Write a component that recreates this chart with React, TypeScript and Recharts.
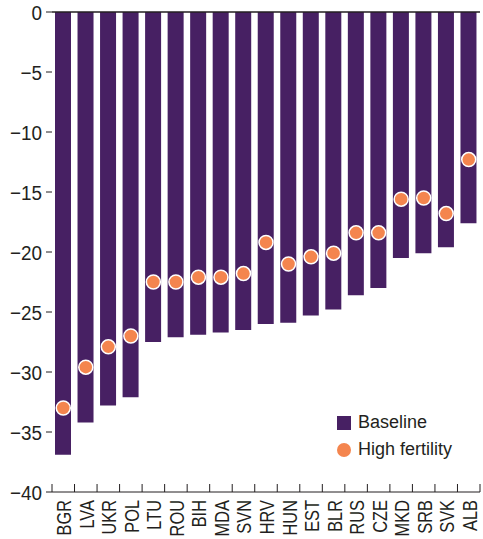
import React from 'react';
import {
  ComposedChart,
  Bar,
  Line,
  XAxis,
  YAxis,
  ReferenceLine,
} from 'recharts';

const countries = ['BGR', 'LVA', 'UKR', 'POL', 'LTU', 'ROU', 'BIH', 'MDA', 'SVN', 'HRV', 'HUN', 'EST', 'BLR', 'RUS', 'CZE', 'MKD', 'SRB', 'SVK', 'ALB'];
const baseline = [-36.9, -34.2, -32.8, -32.1, -27.5, -27.1, -26.9, -26.7, -26.5, -26.0, -25.9, -25.3, -24.8, -23.6, -23.0, -20.5, -20.1, -19.6, -17.6];
const highFertility = [-33.0, -29.6, -27.9, -27.0, -22.5, -22.5, -22.1, -22.1, -21.8, -19.2, -21.0, -20.4, -20.1, -18.4, -18.4, -15.6, -15.5, -16.8, -12.3];
const yTicks = [0, -5, -10, -15, -20, -25, -30, -35, -40];

const data = countries.map((name, i) => ({
  name,
  baseline: baseline[i],
  high: highFertility[i],
}));

const FONT = "'Liberation Sans', Arial, sans-serif";
const PURPLE = '#472063';
const ORANGE = '#F4854E';
const INK = '#231f20';

// category labels plus the boundary tick marks between categories
const CountryTick = (props: any) => {
  const { x, y, payload, index, visibleTicksCount } = props;
  const half = payload.offset || 0;
  const isLast = index === visibleTicksCount - 1;
  return (
    <g>
      <line x1={x - half} x2={x - half} y1={y} y2={y - 8} stroke={INK} />
      {isLast && <line x1={x + half} x2={x + half} y1={y} y2={y - 8} stroke={INK} />}
      <text
        transform={`translate(${x + 8},${y + 8}) rotate(-90) scale(0.78,1)`}
        textAnchor="end"
        fontFamily={FONT}
        fontSize={21}
        fill={INK}
      >
        {payload.value}
      </text>
    </g>
  );
};

const ValueTick = (props: any) => {
  const { x, y, payload } = props;
  return (
    <text
      transform={`translate(${x},${y}) scale(0.9,1)`}
      textAnchor="end"
      dy="0.36em"
      fontFamily={FONT}
      fontSize={21}
      fill={INK}
    >
      {String(payload.value).replace('-', '\u2212')}
    </text>
  );
};

const LegendBox = () => (
  <div
    style={{
      position: 'absolute',
      left: 337,
      top: 409,
      fontFamily: FONT,
      fontSize: 18,
      color: INK,
      lineHeight: '27px',
    }}
  >
    <div style={{ display: 'flex', alignItems: 'center' }}>
      <span style={{ display: 'inline-block', width: 14, height: 14, background: PURPLE, marginRight: 7 }} />
      Baseline
    </div>
    <div style={{ display: 'flex', alignItems: 'center' }}>
      <span style={{ display: 'inline-block', width: 14, height: 14, borderRadius: 7, background: ORANGE, marginRight: 7 }} />
      High fertility
    </div>
  </div>
);

export default function App() {
  return (
    <div style={{ position: 'absolute', left: 0, top: 0, width: 483, height: 539, background: '#fff' }}>
      <ComposedChart
        width={483}
        height={539}
        data={data}
        margin={{ top: 12, right: 0, bottom: 0, left: 0 }}
        barSize={16}
      >
        <XAxis
          dataKey="name"
          height={47}
          interval={0}
          tickSize={0}
          tickMargin={0}
          axisLine={{ stroke: INK }}
          tickLine={false}
          tick={<CountryTick />}
        />
        <YAxis
          yAxisId="left"
          domain={[-40, 0]}
          ticks={yTicks}
          width={52}
          tickSize={6}
          tickMargin={4}
          axisLine={false}
          tickLine={{ stroke: INK }}
          tick={<ValueTick />}
        />
        <YAxis
          yAxisId="right"
          orientation="right"
          domain={[-40, 0]}
          ticks={yTicks}
          width={3}
          tickSize={3}
          axisLine={false}
          tick={false}
          tickLine={{ stroke: INK }}
        />
        <Bar
          yAxisId="left"
          dataKey="baseline"
          name="Baseline"
          fill={PURPLE}
          isAnimationActive={false}
        />
        <Line
          yAxisId="left"
          dataKey="high"
          name="High fertility"
          stroke="none"
          dot={{ r: 7, fill: ORANGE, stroke: '#fff', strokeWidth: 1.5, fillOpacity: 1 }}
          activeDot={false}
          isAnimationActive={false}
        />
        <ReferenceLine yAxisId="left" y={0} stroke={INK} strokeWidth={1.5} />
      </ComposedChart>
      <LegendBox />
    </div>
  );
}
